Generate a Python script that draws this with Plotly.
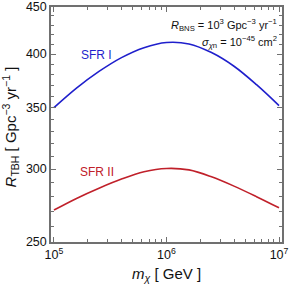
import plotly.graph_objects as go

log_mass = [5.0, 5.2, 5.4, 5.6, 5.8, 6.0, 6.2, 6.4, 6.6, 6.8, 7.0]
mass = [10 ** v for v in log_mass]
sfr1 = [349.8, 367.3, 383.0, 396.5, 406.5, 411.8, 410.3, 401.5, 388.0, 370.5, 351.6]
sfr2 = [270.8, 278.8, 286.0, 292.6, 298.0, 300.5, 299.4, 294.3, 287.5, 280.0, 272.3]
ytick_vals = [250, 300, 350, 400, 450]
xtick_vals = [1e5, 1e6, 1e7]
xtick_text = ["10<sup>5</sup>", "10<sup>6</sup>", "10<sup>7</sup>"]
yminor_vals = list(range(250, 451, 10))

FONT = "Liberation Sans, Arial, sans-serif"
AX = "#707070"
BLUE = "#1f1fcc"
RED = "#c0202a"

fig = go.Figure()
fig.add_trace(go.Scatter(x=mass, y=sfr1, mode="lines", line=dict(color=BLUE, width=1.6, shape="spline", smoothing=1.0), showlegend=False))
fig.add_trace(go.Scatter(x=mass, y=sfr2, mode="lines", line=dict(color=RED, width=1.6, shape="spline", smoothing=1.0), showlegend=False))

fig.update_layout(
    width=291, height=287,
    margin=dict(l=51, r=9, t=7, b=45, autoexpand=False),
    paper_bgcolor="white", plot_bgcolor="white",
    showlegend=False,
    font=dict(family=FONT, size=12.5, color="#111"),
    xaxis=dict(type="log", range=[5 - 0.0265, 7 + 0.0265],
               tickvals=xtick_vals, ticktext=xtick_text,
               ticks="inside", ticklen=5, tickcolor=AX, tickwidth=1,
               showline=True, linecolor=AX, linewidth=1.5, mirror="allticks",
               showgrid=False, zeroline=False, automargin=False,
               minor=dict(ticks="inside", ticklen=3, tickcolor=AX, dtick="D1", showgrid=False)),
    yaxis=dict(type="log", range=[2.39794, 2.65321],
               tickvals=ytick_vals, ticktext=[str(v) for v in ytick_vals],
               ticks="inside", ticklen=5, tickcolor=AX, tickwidth=1,
               showline=True, linecolor=AX, linewidth=1.5, mirror="allticks",
               showgrid=False, zeroline=False, automargin=False,
               minor=dict(ticks="inside", ticklen=3, tickcolor=AX, tickmode="array", tickvals=yminor_vals, showgrid=False)),
    annotations=[
        dict(x=0.5, y=-0.14, xref="paper", yref="paper", xanchor="center", yanchor="middle",
             text="<i>m</i><sub><i>χ</i></sub> [ GeV ]", showarrow=False, font=dict(size=15, color="#111")),
        dict(x=-0.175, y=0.49, xref="paper", yref="paper", xanchor="center", yanchor="middle", textangle=-90,
             text="<i>R</i><sub>TBH</sub> [ Gpc<sup>−3</sup> yr<sup>−1</sup> ]", showarrow=False, font=dict(size=15, color="#111")),
        dict(x=5.38, y=2.601, xref="x", yref="y", text="SFR I", showarrow=False, font=dict(size=12, color=BLUE)),
        dict(x=5.38, y=2.474, xref="x", yref="y", text="SFR II", showarrow=False, font=dict(size=12, color=RED)),
        dict(x=0.985, y=0.965, xref="paper", yref="paper", xanchor="right", yanchor="top",
             text="<i>R</i><sub>BNS</sub> = 10<sup>3</sup> Gpc<sup>−3</sup> yr<sup>−1</sup>", showarrow=False, font=dict(size=11, color="#111")),
        dict(x=0.985, y=0.895, xref="paper", yref="paper", xanchor="right", yanchor="top",
             text="<i>σ</i><sub><i>χ</i>n</sub> = 10<sup>−45</sup> cm<sup>2</sup>", showarrow=False, font=dict(size=11, color="#111")),
    ],
)
fig.write_html("out.html", config={"displayModeBar": False},
               post_script="document.body.style.margin='0';document.body.style.overflow='hidden';")
